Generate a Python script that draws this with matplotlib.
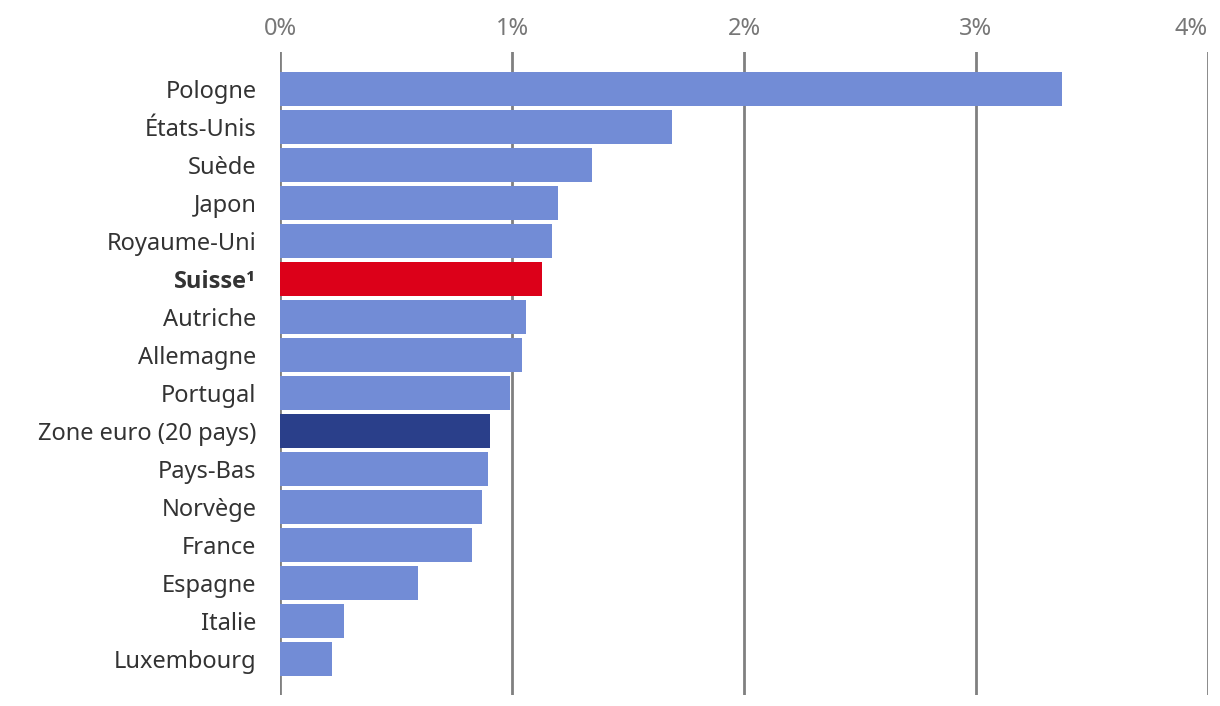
import matplotlib
matplotlib.use("Agg")
import matplotlib.pyplot as plt

plt.rcParams['font.family'] = ['Noto Sans', 'DejaVu Sans']

countries = ["Pologne", "États-Unis", "Suède", "Japon", "Royaume-Uni", "Suisse¹",
             "Autriche", "Allemagne", "Portugal", "Zone euro (20 pays)", "Pays-Bas",
             "Norvège", "France", "Espagne", "Italie", "Luxembourg"]
values = [3.37, 1.69, 1.345, 1.198, 1.172, 1.129, 1.06, 1.043, 0.991, 0.905,
          0.897, 0.871, 0.828, 0.595, 0.276, 0.224]
xticks = [0, 1, 2, 3, 4]
xtick_labels = ["0%", "1%", "2%", "3%", "4%"]

blue = "#728cd6"
red = "#dc0019"
navy = "#2a3f8a"
colors = [red if c == "Suisse¹" else navy if c.startswith("Zone euro") else blue
          for c in countries]

fig = plt.figure(figsize=(12.2, 7.06), dpi=100)
ax = fig.add_axes([280 / 1220, 1 - 695 / 706, 928 / 1220, 643 / 706])

y = list(range(len(countries)))
ax.barh(y, values, height=0.88, color=colors, zorder=3)

ax.set_xlim(0, 4)
ax.set_ylim(15.95, -0.97)
ax.set_xticks(xticks)
ax.set_xticklabels(xtick_labels)
ax.xaxis.tick_top()
ax.tick_params(axis='x', length=0, pad=8, labelsize=17, labelcolor="#777777")
ax.get_xticklabels()[-1].set_horizontalalignment("right")
ax.set_yticks(y)
ax.set_yticklabels(countries)
ax.tick_params(axis='y', length=0, pad=17, labelsize=17, labelcolor="#333333")
for lbl in ax.get_yticklabels():
    if lbl.get_text() == "Suisse¹":
        lbl.set_family(['Open Sans', 'DejaVu Sans'])
        lbl.set_fontweight("bold")

ax.grid(axis='x', color="#808080", linewidth=2, zorder=0)
for s in ax.spines.values():
    s.set_visible(False)

fig.savefig("out.png", dpi=100)
